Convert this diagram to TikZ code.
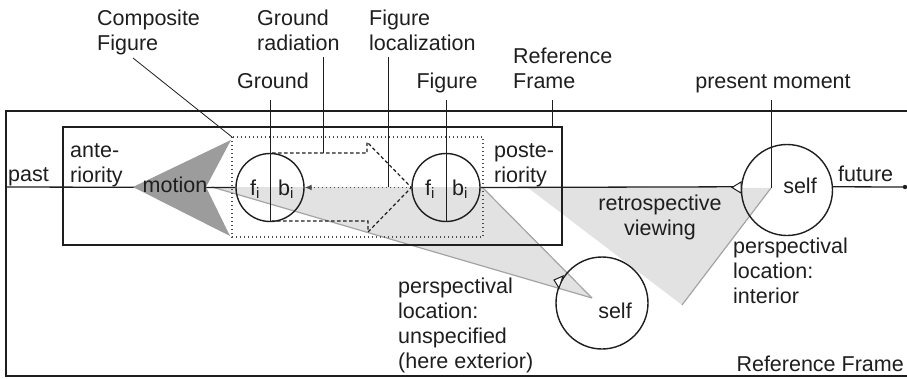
\documentclass[tikz,border=0pt]{standalone}
\usepackage{fontspec}
\setmainfont{Liberation Sans}
\usetikzlibrary{arrows.meta}
\definecolor{ink}{HTML}{1E1E1E}
\definecolor{lgray}{HTML}{E2E2E2}
\definecolor{mgray}{HTML}{A4A4A4}
\definecolor{dgray}{HTML}{9C9C9C}
\begin{document}
\begin{tikzpicture}[x=1pt,y=-1pt,
  font=\fontsize{21.5}{25}\selectfont,
  lbl/.style={inner sep=0pt, text=ink, align=left, anchor=base west},
  clbl/.style={inner sep=0pt, text=ink, align=center, anchor=base},
  circ/.style={circle, draw=ink, line width=1.4pt, inner sep=0pt},
  tl/.style={draw=ink, line width=1.3pt},
  pointer/.style={draw=ink, line width=0.8pt},
  fanedge/.style={draw=mgray, line width=1.2pt},
  dotline/.style={draw=ink!80, line width=1.3pt, dash pattern=on 1.3pt off 2.7pt},
  eyemark/.style={draw=ink, fill=white, line width=1pt, line join=miter}]
\useasboundingbox (0,0) rectangle (907,378);

% ---------- fills ----------
\coordinate (eyeB) at (592,298);
\coordinate (eyeA) at (771,188);
\fill[lgray] (212,187) -- (482,187) -- (eyeB) -- cycle;
\fill[lgray] (eyeA) -- (527,187) -- (682,305) -- cycle;
\draw[fanedge] (212,187) -- (eyeB);
\draw[fanedge] (482,187) -- (eyeB);
\draw[fanedge] (eyeA) -- (682,305);

% ---------- frames ----------
\draw[draw=ink, line width=1.8pt] (6,111) rectangle (916,376);
\draw[draw=ink, line width=1.5pt] (63,127) rectangle (562,245);
\draw[dotline] (232,137) rectangle (483,237);

% ---------- circles ----------
\node[circ, minimum size=68pt] (G) at (270,187.5) {};
\node[circ, minimum size=68pt] (F) at (446,187.5) {};
\node[circ, minimum size=91pt] (S1) at (787,190) {};
\node[circ, minimum size=92pt] (S2) at (602,303) {};

% ---------- timeline ----------
\coordinate (pastend) at (6,187);
\coordinate (tip) at (133,187);
\coordinate (fut) at (905,187);
\draw[tl] (pastend) -- (G.west);
\fill[dgray] (tip) -- (231,140) -- (206,187) -- (230,236) -- cycle;
\draw[tl] (F.east) -- (S1.176);
\draw[tl] (S1.4) -- (fut);
\fill[ink] (fut) circle (2.2);
\draw[dotline, -{Latex[length=7pt,width=6pt]}] (F.west) -- (G.east);

% ---------- ground radiation arrow ----------
\draw[draw=ink, line width=1.2pt, dash pattern=on 3.5pt off 2.5pt]
  (272,153) -- (367,153) -- (367,142) -- (F.west) -- (368,232) -- (368,221) -- (272,221);

% ---------- eye markers ----------
\draw[eyemark] (741,182) -- (741,193) -- (732,187.5) -- cycle;
\draw[eyemark] (554,280) -- (563,276) -- (559,288) -- cycle;

% ---------- label pointers ----------
\coordinate (pComp) at (133,58);
\coordinate (pGrad) at (323,57);
\coordinate (pFloc) at (388,57);
\coordinate (pGnd) at (270,100);
\coordinate (pFig) at (446,100);
\coordinate (pRef) at (552,100);
\coordinate (pPres) at (771,100);
\draw[pointer] (pComp) -- (232,137);
\draw[pointer] (pGrad) -- (323,153);
\draw[pointer] (pFloc) -- (388,187);
\draw[pointer] (pGnd) -- (G.south);
\draw[pointer] (pFig) -- (F.south);
\draw[pointer] (pRef) -- (552,127);
\draw[pointer] (pPres) -- (eyeA);

% ---------- texts (base = last line baseline) ----------
\node[lbl] (tComp) at (97,50) {Composite\\Figure};
\node[lbl] (tGrad) at (257,50) {Ground\\radiation};
\node[lbl] (tFloc) at (369,50) {Figure\\localization};
\node[lbl] (tRef) at (513,88) {Reference\\Frame};
\node[clbl] (tGnd) at (273,88) {Ground};
\node[clbl] (tFig) at (447,88) {Figure};
\node[clbl] (tPres) at (773,88) {present moment};
\node[lbl] (tPast) at (8,181) {past};
\node[lbl] (tAnte) at (70,182) {ante-\\riority};
\node[lbl] (tPost) at (494,182) {poste-\\riority};
\node[clbl] (tMot) at (175,192) {motion};
\node[lbl] (tFut) at (838,181) {future};
\node[lbl] (fG) at (250,195) {f\textsubscript{i}};
\node[lbl] (bG) at (278,195) {b\textsubscript{i}};
\node[lbl] (fF) at (425,195) {f\textsubscript{i}};
\node[lbl] (bF) at (452,195) {b\textsubscript{i}};
\node[clbl] (tRetro) at (660,235) {retrospective\\viewing};
\node[clbl] (tSelfA) at (800,193) {self};
\node[lbl] (tInt) at (733,303) {perspectival\\location:\\interior};
\node[clbl] (tSelfB) at (615,318) {self};
\node[lbl] (tExt) at (398,368) {perspectival\\location:\\unspecified\\(here exterior)};
\node[inner sep=0pt, text=ink, anchor=base east] (tRefB) at (904,371) {Reference Frame};
\end{tikzpicture}
\end{document}
